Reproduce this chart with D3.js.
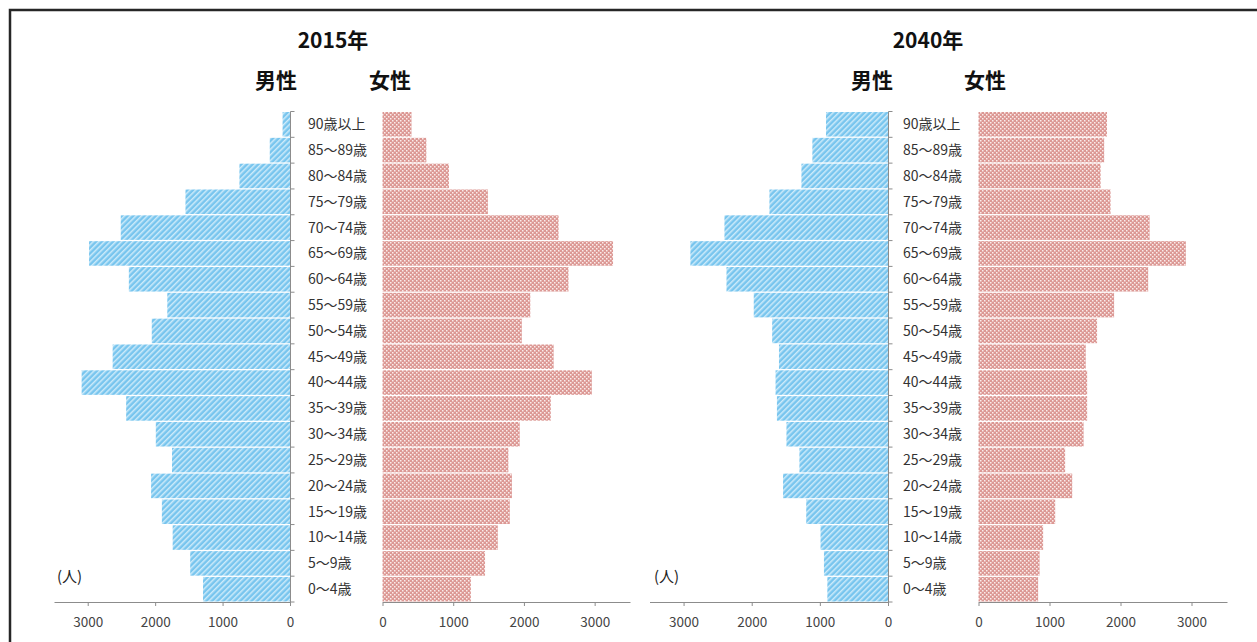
<!DOCTYPE html>
<html>
<head>
<meta charset="utf-8">
<script src="https://cdn.jsdelivr.net/npm/d3@7"></script>
<style>
  html, body { margin: 0; padding: 0; background: #fff; }
  svg { display: block; }
  text { font-family: "Noto Sans CJK JP", "Noto Sans", sans-serif; }
</style>
</head>
<body>
<svg id="chart" width="1257" height="642"></svg>
<script>
// Age groups, oldest at the top
const ages = ["90歳以上", "85～89歳", "80～84歳", "75～79歳", "70～74歳", "65～69歳",
  "60～64歳", "55～59歳", "50～54歳", "45～49歳", "40～44歳", "35～39歳", "30～34歳",
  "25～29歳", "20～24歳", "15～19歳", "10～14歳", "5～9歳", "0～4歳"];

// Population (人) per age group
const male2015   = [110, 300, 750, 1550, 2510, 2980, 2390, 1820, 2050, 2630, 3090, 2430, 1990, 1750, 2060, 1900, 1740, 1480, 1290];
const female2015 = [410, 620, 940, 1490, 2490, 3260, 2630, 2090, 1970, 2420, 2960, 2380, 1940, 1780, 1830, 1800, 1630, 1450, 1250];
const male2040   = [910, 1110, 1270, 1740, 2400, 2900, 2370, 1970, 1700, 1600, 1650, 1630, 1490, 1300, 1540, 1200, 990, 940, 890];
const female2040 = [1810, 1770, 1720, 1860, 2410, 2920, 2390, 1910, 1670, 1510, 1530, 1530, 1480, 1220, 1320, 1080, 910, 860, 840];

const tickValues = [0, 1000, 2000, 3000];
const maxValue = 3500;

const svg = d3.select("#chart");

// Fill patterns: blue hatching for men, red dotted for women
const defs = svg.append("defs");
const hatch = defs.append("pattern")
  .attr("id", "hatchMale").attr("patternUnits", "userSpaceOnUse")
  .attr("width", 4).attr("height", 4).attr("patternTransform", "rotate(45)");
hatch.append("rect").attr("width", 4).attr("height", 4).attr("fill", "#78c5ee");
hatch.append("rect").attr("x", 0).attr("width", 1.5).attr("height", 4).attr("fill", "#cdebfa");

const dots = defs.append("pattern")
  .attr("id", "dotFemale").attr("patternUnits", "userSpaceOnUse")
  .attr("width", 4).attr("height", 4);
dots.append("rect").attr("width", 4).attr("height", 4).attr("fill", "#dc9894");
dots.append("rect").attr("x", 0).attr("y", 0).attr("width", 1.5).attr("height", 1.5).attr("fill", "#fbeceb");
dots.append("rect").attr("x", 2).attr("y", 2).attr("width", 1.5).attr("height", 1.5).attr("fill", "#fbeceb");

// Outer frame
svg.append("rect")
  .attr("x", 10).attr("y", 10).attr("width", 1270).attr("height", 660)
  .attr("fill", "none").attr("stroke", "#262626").attr("stroke-width", 2.5);

function drawPyramid(cfg) {
  const g = svg.append("g");
  const y = d3.scaleBand().domain(ages).range([111.5, 602]).paddingInner(0.05).paddingOuter(0.02);
  const xm = d3.scaleLinear().domain([0, maxValue]).range([cfg.maleZero, cfg.maleEnd]);
  const xf = d3.scaleLinear().domain([0, maxValue]).range([cfg.femaleZero, cfg.femaleEnd]);

  // Bars
  g.selectAll(".m").data(cfg.male).join("rect")
    .attr("x", d => xm(d)).attr("y", (d, i) => y(ages[i]))
    .attr("width", d => xm(0) - xm(d)).attr("height", y.bandwidth())
    .attr("fill", "url(#hatchMale)");
  g.selectAll(".f").data(cfg.female).join("rect")
    .attr("x", xf(0)).attr("y", (d, i) => y(ages[i]))
    .attr("width", d => xf(d) - xf(0)).attr("height", y.bandwidth())
    .attr("fill", "url(#dotFemale)");

  // Category axis on the inner edge of the male bars
  const [y0, y1] = y.range();
  g.append("line").attr("x1", xm(0) + 0.5).attr("x2", xm(0) + 0.5)
    .attr("y1", y0).attr("y2", y1).attr("stroke", "#8c8c8c");
  const step = (y1 - y0) / ages.length;
  g.selectAll(".yt").data(d3.range(ages.length + 1)).join("line")
    .attr("x1", xm(0) + 0.5).attr("x2", xm(0) + 4.5)
    .attr("y1", i => y0 + i * step).attr("y2", i => y0 + i * step)
    .attr("stroke", "#8c8c8c");

  // Age labels
  g.selectAll(".lab").data(ages).join("text")
    .attr("x", cfg.labelX).attr("y", d => y(d) + y.bandwidth() / 2)
    .attr("dy", "0.35em").attr("font-size", "14px").attr("fill", "#333")
    .text(d => d);

  // Value axes
  const axisStyle = sel => {
    sel.select(".domain").attr("stroke", "#8c8c8c");
    sel.selectAll(".tick line").attr("stroke", "#8c8c8c");
    sel.selectAll(".tick text").attr("fill", "#444").attr("font-size", "13.5px")
      .attr("font-family", "'Liberation Sans Narrow', 'Noto Sans', sans-serif").attr("dy", "1.3em");
  };
  g.append("g").attr("transform", `translate(0,${y1})`)
    .call(d3.axisBottom(xm).tickValues(tickValues).tickSize(4).tickSizeOuter(0).tickFormat(d3.format("d")))
    .call(axisStyle);
  g.append("g").attr("transform", `translate(0,${y1})`)
    .call(d3.axisBottom(xf).tickValues(tickValues).tickSize(4).tickSizeOuter(0).tickFormat(d3.format("d")))
    .call(axisStyle);

  // Titles
  g.append("text").attr("x", cfg.titleX).attr("y", 48).attr("text-anchor", "middle")
    .attr("font-size", "21px").attr("font-weight", "bold").attr("fill", "#111").text(cfg.title);
  g.append("text").attr("x", cfg.maleTitleX).attr("y", 88).attr("text-anchor", "middle")
    .attr("font-size", "21px").attr("font-weight", "bold").attr("fill", "#111").text("男性");
  g.append("text").attr("x", cfg.femaleTitleX).attr("y", 88).attr("text-anchor", "middle")
    .attr("font-size", "21px").attr("font-weight", "bold").attr("fill", "#111").text("女性");
  g.append("text").attr("x", cfg.unitX).attr("y", 582)
    .attr("font-size", "15px").attr("fill", "#222").text("(人)");
}

drawPyramid({
  title: "2015年", male: male2015, female: female2015,
  maleZero: 290, maleEnd: 54, femaleZero: 382.5, femaleEnd: 630,
  labelX: 308, titleX: 333, maleTitleX: 276, femaleTitleX: 390, unitX: 57
});
drawPyramid({
  title: "2040年", male: male2040, female: female2040,
  maleZero: 888, maleEnd: 649.5, femaleZero: 978.5, femaleEnd: 1227,
  labelX: 903, titleX: 928, maleTitleX: 872, femaleTitleX: 985, unitX: 654
});
</script>
</body>
</html>
